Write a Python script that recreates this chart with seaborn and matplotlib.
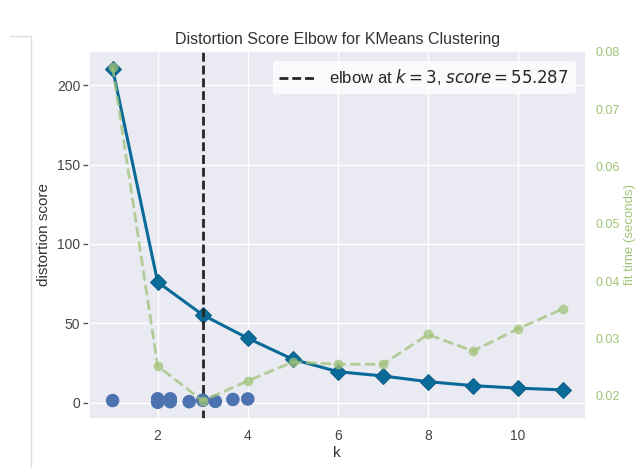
import numpy as np
import pandas as pd
import seaborn as sns
import matplotlib.pyplot as plt
from matplotlib.lines import Line2D

# values
k_values = [1, 2, 3, 4, 5, 6, 7, 8, 9, 10, 11]
distortion = [210.5, 76.0, 55.287, 40.6, 27.3, 19.5, 16.8, 13.2, 10.7, 9.1, 8.0]
fit_time = [0.0774, 0.0252, 0.0191, 0.0226, 0.0259, 0.0255, 0.0255, 0.0307, 0.0278, 0.0317, 0.0352]

# raw points that sit along the bottom of the plot
pts_x = [1.0, 2.0, 2.0, 2.28, 2.28, 2.7, 3.0, 3.28, 3.67, 4.0]
pts_y = [1.3, 0.2, 2.4, 0.6, 2.4, 0.6, 1.5, 0.8, 2.0, 2.3]

elbow_k = 3
elbow_score = 55.287

blue = '#0a6a98'
green = '#9fc377'
dot_blue = '#4c72b0'

sns.set_theme(style='darkgrid')
plt.rcParams['font.family'] = ['Liberation Sans', 'DejaVu Sans']

df = pd.DataFrame({'k': k_values, 'distortion': distortion, 'fit_time': fit_time})
pts = pd.DataFrame({'x': pts_x, 'y': pts_y})

fig, ax = plt.subplots(figsize=(6.35, 4.68), dpi=100)
fig.subplots_adjust(left=0.1397, right=0.9224, top=0.8917, bottom=0.1041)

sns.lineplot(data=df, x='k', y='distortion', ax=ax, color=blue, marker='D',
             markersize=8, linewidth=2.2, markeredgecolor='#0b5f88', legend=False)
sns.scatterplot(data=pts, x='x', y='y', ax=ax, color=dot_blue, s=95, edgecolor='none', zorder=3)

ax.axvline(elbow_k, color='#262626', linestyle=(0, (3.2, 1.4)), linewidth=2.0,
           label=f'elbow at $k={elbow_k}$, $score={elbow_score:0.3f}$')

ax.set_xlim(0.47, 11.5)
ax.set_ylim(-10.5, 221.8)
ax.set_xticks([2, 4, 6, 8, 10])
ax.set_yticks([0, 50, 100, 150, 200])
ax.set_xlabel('k', fontsize=11, color='#333333', labelpad=2)
ax.set_ylabel('distortion score', fontsize=11, color='#333333', labelpad=4)
ax.tick_params(axis='y', left=True, length=4, width=1, color='#555555', labelsize=10,
               labelcolor='#444444', pad=2)
ax.tick_params(axis='x', length=0, labelsize=10, labelcolor='#444444', pad=7)
ax.set_title('Distortion Score Elbow for KMeans Clustering', fontsize=11.5,
             color='#333333', pad=5)

ax.legend(loc='upper right', fontsize=12, frameon=True, facecolor='white',
          framealpha=0.8, edgecolor='none', handlelength=2.2,
          borderaxespad=0.6, borderpad=0.4)

ax2 = ax.twinx()
sns.lineplot(data=df, x='k', y='fit_time', ax=ax2, color=green, marker='o',
             markersize=7, linewidth=2.0, linestyle='--', alpha=0.75,
             markeredgecolor='none', legend=False)
ax2.set_ylim(0.0159, 0.0802)
ax2.set_yticks([0.02, 0.03, 0.04, 0.05, 0.06, 0.07, 0.08])
ax2.set_yticklabels(['0.02', '0.03', '0.04', '0.05', '0.06', '0.07', '0.08'])
ax2.grid(False)
ax2.tick_params(axis='y', length=0, labelsize=9, labelcolor=green, pad=7)
ax2.set_ylabel('fit time (seconds)', fontsize=9.5, color=green, labelpad=3)
for s in ax2.spines.values():
    s.set_visible(False)

# notebook cell border at the left of the screenshot
fig.add_artist(Line2D([10 / 635, 30.7 / 635], [1 - 35.7 / 468, 1 - 35.7 / 468],
                      transform=fig.transFigure, color='#dddddd', linewidth=1))
fig.add_artist(Line2D([30.7 / 635, 30.7 / 635], [0, 1 - 35.7 / 468],
                      transform=fig.transFigure, color='#dddddd', linewidth=1))

fig.savefig('out.png', dpi=100)
